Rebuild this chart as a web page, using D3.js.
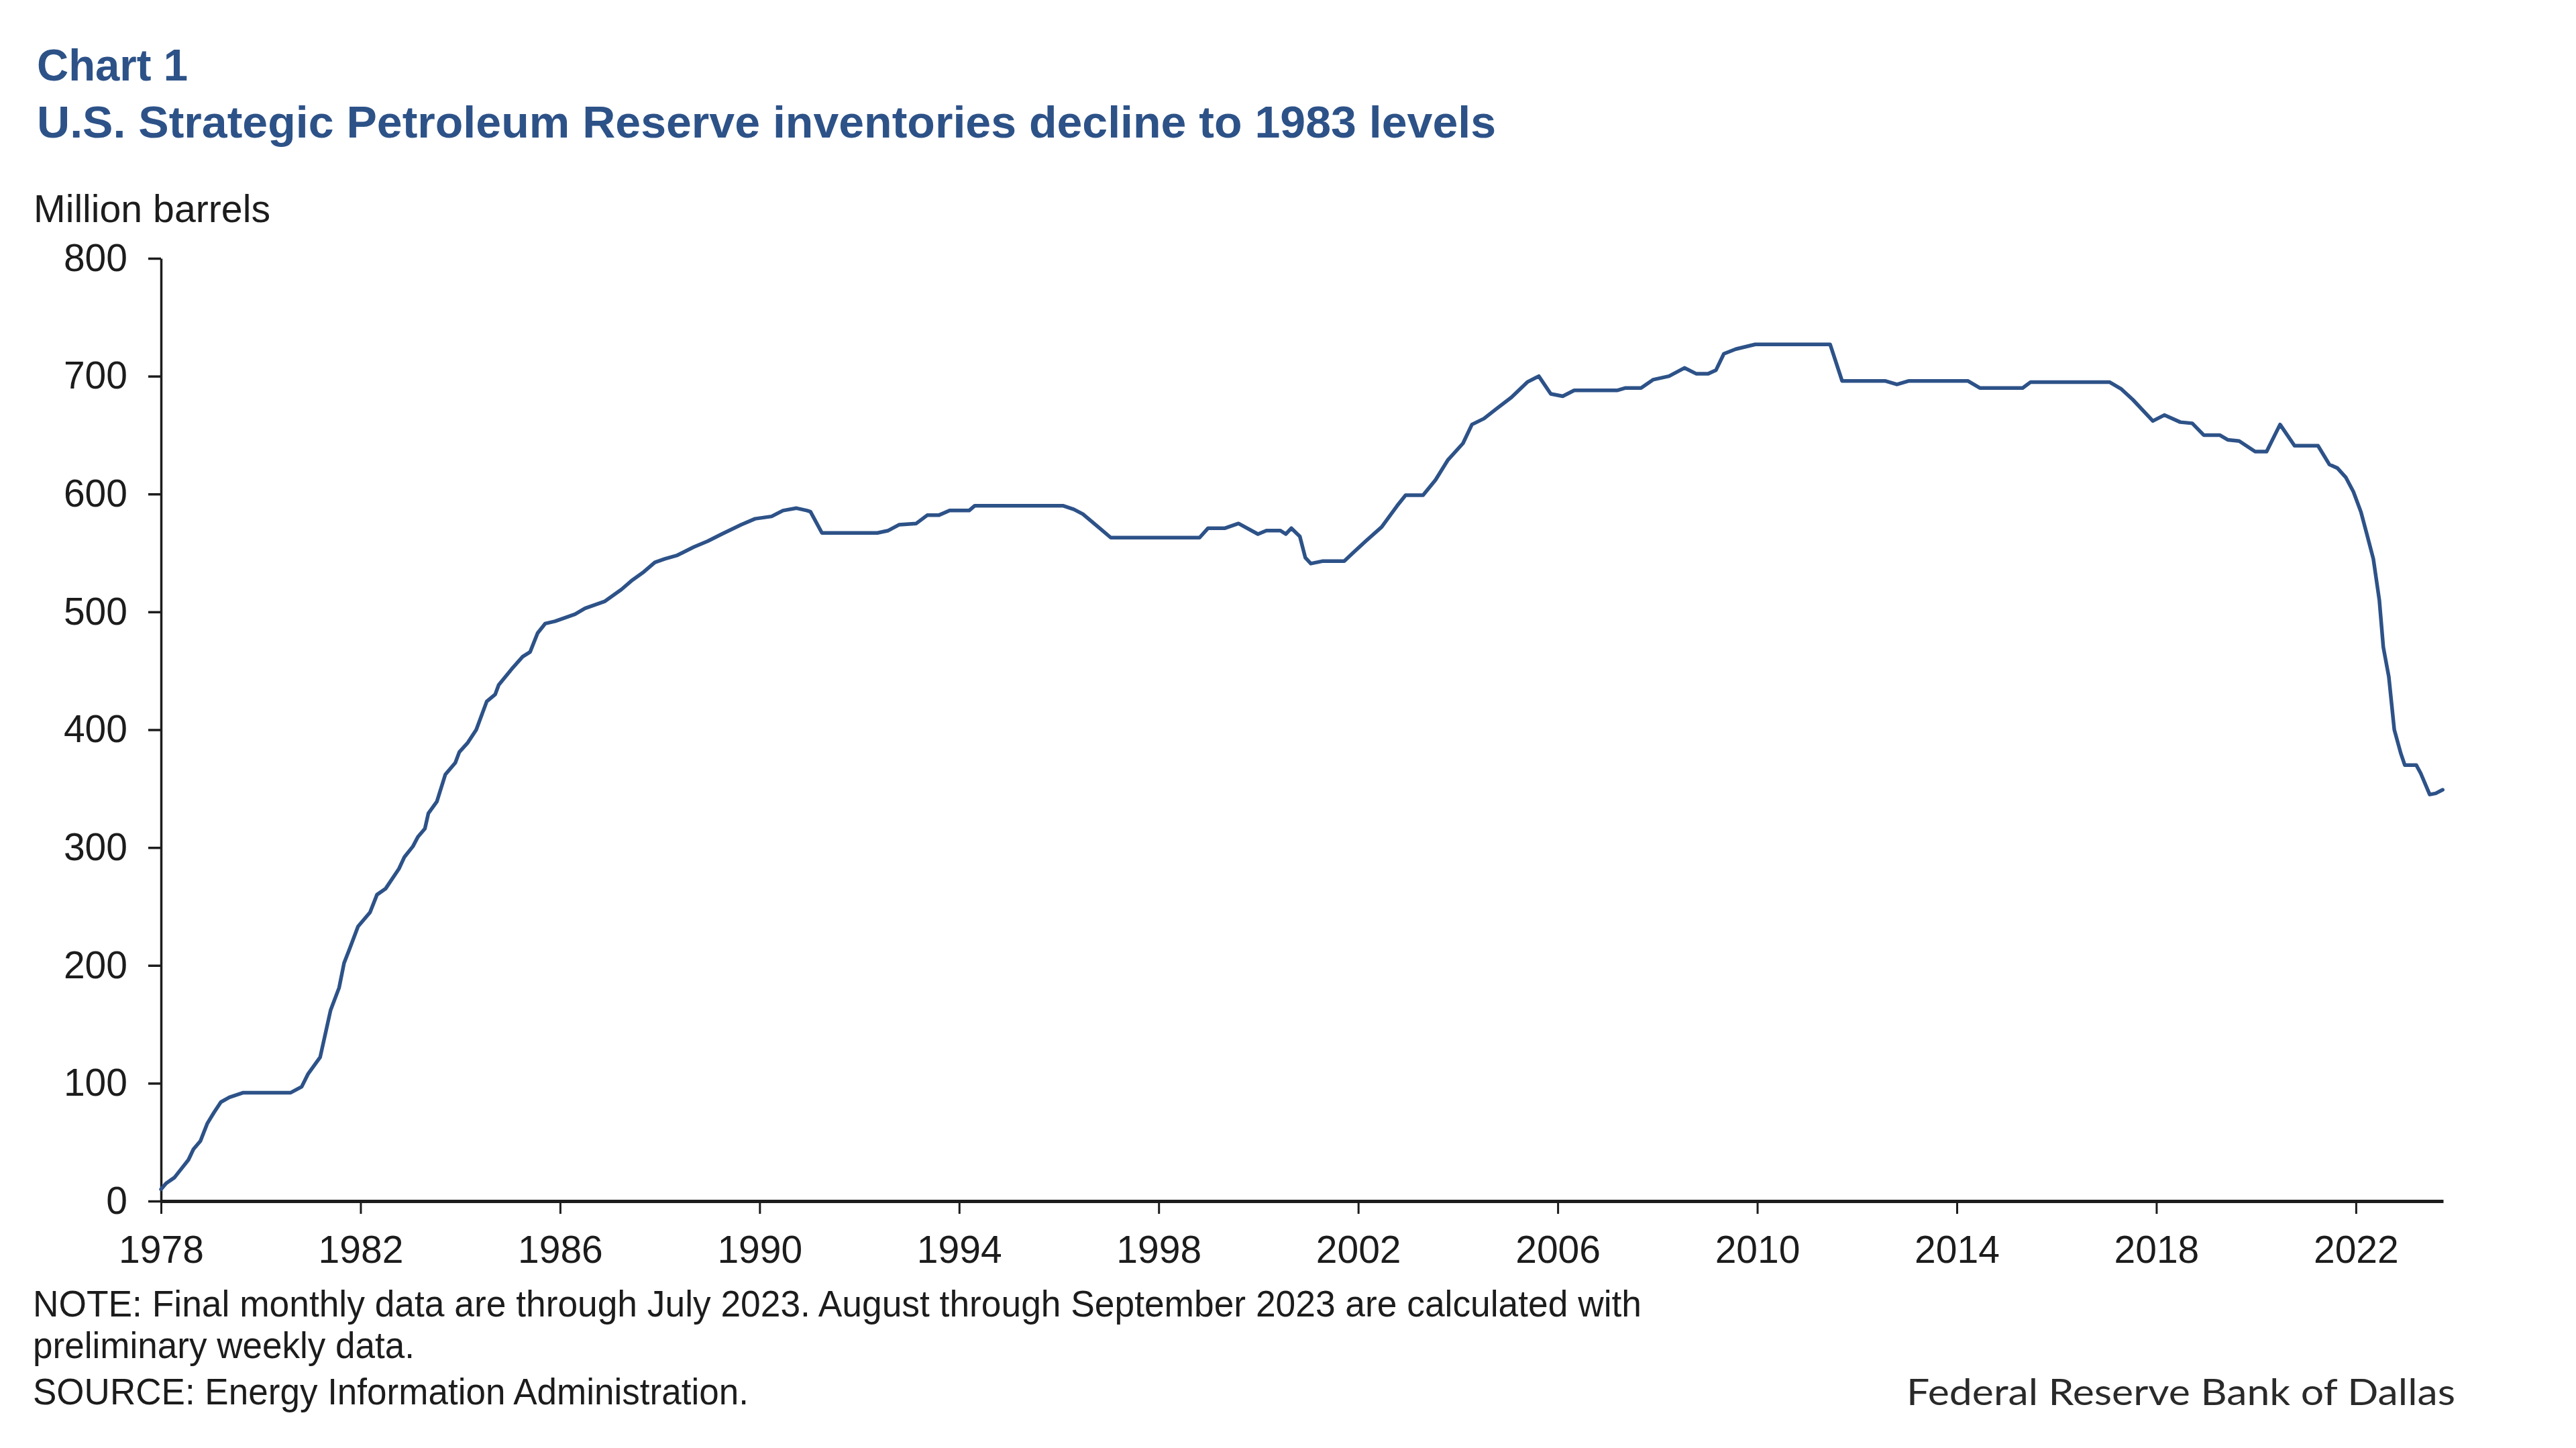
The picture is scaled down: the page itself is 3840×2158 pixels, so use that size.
<!DOCTYPE html>
<html><head><meta charset="utf-8">
<script src="https://cdn.jsdelivr.net/npm/d3@7"></script>
<style>html,body{margin:0;padding:0;background:#fff}svg{display:block}</style>
</head><body>
<script>
// ---- data ----
const years = [
 1978.00,1978.10,1978.27,1978.40,1978.55,1978.65,1978.79,1978.93,1979.06,1979.20,
 1979.37,1979.65,1980.60,1980.82,1980.95,1981.19,1981.40,1981.57,1981.67,1981.78,
 1981.95,1982.19,1982.33,1982.50,1982.77,1982.88,1983.05,1983.15,1983.29,1983.36,
 1983.53,1983.70,1983.90,1983.98,1984.15,1984.32,1984.53,1984.70,1984.77,1985.04,
 1985.25,1985.40,1985.55,1985.70,1985.90,1986.10,1986.30,1986.50,1986.70,1986.90,
 1987.23,1987.45,1987.68,1987.90,1988.10,1988.35,1988.68,1988.96,1989.24,1989.63,
 1989.91,1990.24,1990.47,1990.74,1990.95,1991.02,1991.25,1992.36,1992.58,1992.80,
 1993.14,1993.36,1993.59,1993.81,1994.20,1994.31,1996.09,1996.30,1996.48,1996.76,
 1997.04,1998.82,1998.99,1999.33,1999.60,1999.99,2000.16,2000.44,2000.55,2000.66,
 2000.83,2000.94,2001.05,2001.28,2001.72,2001.92,2002.15,2002.47,2002.78,2002.95,
 2003.30,2003.55,2003.80,2004.10,2004.28,2004.52,2004.76,2005.07,2005.39,2005.62,
 2005.86,2006.10,2006.33,2007.20,2007.36,2007.67,2007.91,2008.23,2008.54,2008.78,
 2009.01,2009.17,2009.33,2009.57,2009.96,2011.46,2011.70,2012.56,2012.80,2013.04,
 2014.22,2014.46,2015.32,2015.48,2017.06,2017.30,2017.53,2017.93,2018.16,2018.48,
 2018.72,2018.95,2019.27,2019.43,2019.66,2019.98,2020.21,2020.48,2020.77,2021.24,
 2021.47,2021.63,2021.80,2021.95,2022.10,2022.22,2022.35,2022.47,2022.55,2022.66,
 2022.77,2022.90,2022.98,2023.21,2023.30,2023.48,2023.60,2023.74
];
const inventory = [
 10,15,20,27,35,44,51,66,75,84,
 88,92,92,97,108,122,162,181,202,214,
 233,245,260,265,282,292,301,309,316,329,
 339,362,372,381,389,400,424,430,438,452,
 462,466,482,490,492,495,498,503,506,509,
 519,527,534,542,545,548,555,560,566,574,
 579,581,586,588,586,585,567,567,569,574,
 575,582,582,586,586,590,590,587,583,573,
 563,563,571,571,575,566,569,569,566,571,
 564,546,541,543,543,551,560,572,590,599,
 599,612,629,643,659,664,672,682,695,700,
 685,683,688,688,690,690,697,700,707,702,
 702,705,719,723,727,727,696,696,693,696,
 696,690,690,695,695,689,680,662,667,661,
 660,650,650,646,645,636,636,659,641,641,
 625,622,614,602,585,566,545,510,470,445,
 400,380,370,370,363,345,346,349
];
const yTicks = [0,100,200,300,400,500,600,700,800];
const xTicks = [1978,1982,1986,1990,1994,1998,2002,2006,2010,2014,2018,2022];

// ---- layout ----
const W = 3840, H = 2158;
const FONT = "'Liberation Sans', Arial, sans-serif";
const BLUE = "#2d5288";
const INK = "#1c1c1c";

const svg = d3.select("body").append("svg")
  .attr("width", W).attr("height", H)
  .style("font-family", FONT);

svg.append("rect").attr("width", W).attr("height", H).attr("fill", "#fff");

const x = d3.scaleLinear().domain([1978, 2023.75]).range([240, 3642]);
const y = d3.scaleLinear().domain([0, 800]).range([1790, 385]);

function fitText(sel, len) {
  sel.attr("textLength", len).attr("lengthAdjust", "spacingAndGlyphs");
  return sel;
}

// titles
fitText(svg.append("text").attr("x", 55).attr("y", 120)
  .attr("font-size", 66).attr("font-weight", "bold").attr("fill", BLUE)
  .text("Chart 1"), 225);
fitText(svg.append("text").attr("x", 55).attr("y", 205)
  .attr("font-size", 66).attr("font-weight", "bold").attr("fill", BLUE)
  .text("U.S. Strategic Petroleum Reserve inventories decline to 1983 levels"), 2175);
fitText(svg.append("text").attr("x", 50).attr("y", 331)
  .attr("font-size", 57).attr("fill", INK)
  .text("Million barrels"), 353);

// y axis
const yAxis = svg.append("g").attr("transform", "translate(240,0)")
  .call(d3.axisLeft(y).tickValues(yTicks).tickSize(19).tickPadding(31).tickSizeOuter(0));
yAxis.select(".domain").attr("stroke", INK).attr("stroke-width", 3.5);
yAxis.selectAll(".tick line").attr("stroke", INK).attr("stroke-width", 3.5);
yAxis.selectAll(".tick text").attr("font-size", 57).attr("fill", INK)
  .attr("font-family", FONT);

// x axis
const xAxis = svg.append("g").attr("transform", "translate(0,1790)")
  .call(d3.axisBottom(x).tickValues(xTicks).tickFormat(d3.format("d"))
    .tickSize(19).tickPadding(33).tickSizeOuter(0));
xAxis.select(".domain").attr("stroke", INK).attr("stroke-width", 5);
xAxis.selectAll(".tick line").attr("stroke", INK).attr("stroke-width", 3);
xAxis.selectAll(".tick text").attr("font-size", 57).attr("fill", INK)
  .attr("font-family", FONT);

// line
const pts = years.map((d, i) => [d, inventory[i]]);
svg.append("path").datum(pts)
  .attr("fill", "none").attr("stroke", BLUE).attr("stroke-width", 5.5)
  .attr("stroke-linejoin", "round").attr("stroke-linecap", "round")
  .attr("d", d3.line().x(d => x(d[0])).y(d => y(d[1])));

// notes
fitText(svg.append("text").attr("x", 49).attr("y", 1962)
  .attr("font-size", 55).attr("fill", INK)
  .text("NOTE: Final monthly data are through July 2023. August through September 2023 are calculated with"), 2398);
fitText(svg.append("text").attr("x", 49).attr("y", 2024)
  .attr("font-size", 55).attr("fill", INK)
  .text("preliminary weekly data."), 569);
fitText(svg.append("text").attr("x", 49).attr("y", 2093)
  .attr("font-size", 55).attr("fill", INK)
  .text("SOURCE: Energy Information Administration."), 1067);
fitText(svg.append("text").attr("x", 3660).attr("y", 2094)
  .attr("text-anchor", "end")
  .attr("font-size", 55).attr("fill", "#2a2a2a").attr("font-family", "Lato, 'Noto Sans', sans-serif")
  .text("Federal Reserve Bank of Dallas"), 818);
</script>
</body></html>
